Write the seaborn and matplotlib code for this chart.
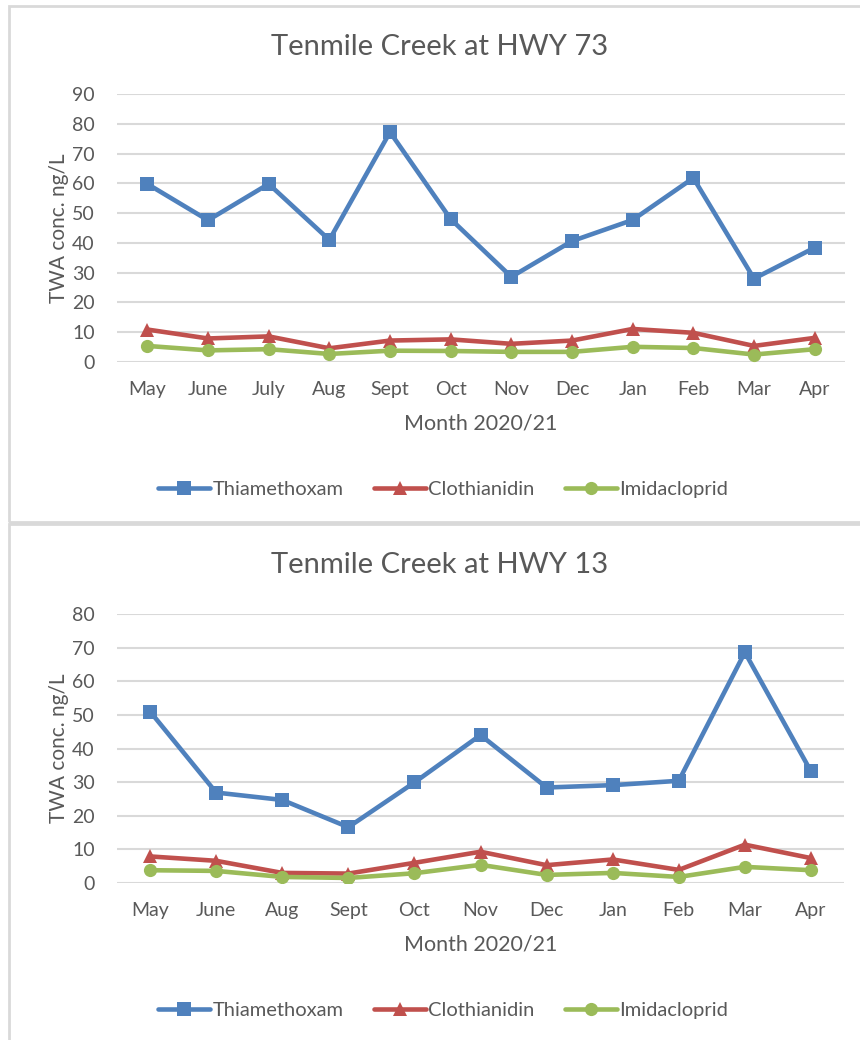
import numpy as np
import pandas as pd
import matplotlib
matplotlib.use("Agg")
import matplotlib.pyplot as plt
import seaborn as sns
from matplotlib.patches import Rectangle

# --- data ---
compounds = ["Thiamethoxam", "Clothianidin", "Imidacloprid"]

months_73 = ["May", "June", "July", "Aug", "Sept", "Oct", "Nov", "Dec", "Jan", "Feb", "Mar", "Apr"]
thiamethoxam_73 = [59.8, 47.6, 59.8, 41.0, 77.2, 48.0, 28.6, 40.6, 47.7, 61.8, 28.0, 38.4]
clothianidin_73 = [10.9, 7.9, 8.6, 4.6, 7.2, 7.6, 6.1, 7.2, 11.1, 9.8, 5.4, 8.1]
imidacloprid_73 = [5.4, 3.9, 4.3, 2.7, 3.8, 3.7, 3.4, 3.4, 5.1, 4.7, 2.5, 4.3]

months_13 = ["May", "June", "Aug", "Sept", "Oct", "Nov", "Dec", "Jan", "Feb", "Mar", "Apr"]
thiamethoxam_13 = [51.0, 26.9, 24.7, 16.6, 29.9, 44.0, 28.4, 29.1, 30.4, 68.6, 33.2]
clothianidin_13 = [7.9, 6.6, 3.0, 2.8, 6.0, 9.3, 5.3, 7.0, 3.9, 11.4, 7.4]
imidacloprid_13 = [3.8, 3.6, 1.8, 1.5, 2.9, 5.4, 2.4, 3.0, 1.8, 4.8, 3.8]

colors = {"Thiamethoxam": "#4F81BD", "Clothianidin": "#C0504D", "Imidacloprid": "#9BBB59"}
markers = {"Thiamethoxam": "s", "Clothianidin": "^", "Imidacloprid": "o"}

TEXT = "#595959"
GRID = "#D9D9D9"

sns.set_theme(style="white")
plt.rcParams["font.family"] = ["Lato", "DejaVu Sans"]


def long_form(months, series):
    frames = []
    for name, vals in zip(compounds, series):
        frames.append(pd.DataFrame({"Month": months, "conc": vals, "Compound": name}))
    return pd.concat(frames, ignore_index=True)


def draw_panel(fig, rect, months, series, title, ymax, title_y, legend_y):
    ax = fig.add_axes(rect)
    df = long_form(months, series)
    sns.lineplot(data=df, x="Month", y="conc", hue="Compound", style="Compound",
                 palette=colors, markers=markers, dashes=False, sort=False,
                 linewidth=3.3, markersize=9.5, markeredgewidth=0, ax=ax)
    ax.set_xlim(-0.5, len(months) - 0.5)
    ax.set_ylim(0, ymax)
    ax.set_yticks(np.arange(0, ymax + 1, 10))
    ax.yaxis.grid(True, color=GRID, linewidth=1.5)
    ax.set_axisbelow(True)
    sns.despine(ax=ax, left=True, bottom=True)
    ax.tick_params(axis="both", length=0, labelsize=14, colors=TEXT)
    ax.tick_params(axis="x", pad=14)
    ax.tick_params(axis="y", pad=16)
    ax.set_xlabel("Month 2020/21", fontsize=15.5, color=TEXT, labelpad=11)
    ax.set_ylabel("TWA conc. ng/L", fontsize=15, color=TEXT, labelpad=2)

    handles, labels = ax.get_legend_handles_labels()
    ax.legend_.remove()
    fig.legend(handles, labels, loc="center", bbox_to_anchor=(0.515, legend_y),
               ncol=3, frameon=False, fontsize=14.5, handlelength=2.6,
               handletextpad=0.1, columnspacing=1.5, labelcolor=TEXT)
    fig.text(0.511, title_y, title, ha="center", va="center", fontsize=21, color=TEXT)
    return ax


fig = plt.figure(figsize=(8.6, 10.4), dpi=100)

# chart-area borders
fig.patches.append(Rectangle((9 / 860, 1 - 522 / 1040), 1.0, 516 / 1040,
                             transform=fig.transFigure, fill=False,
                             edgecolor=GRID, linewidth=2))
fig.patches.append(Rectangle((9 / 860, -0.05), 1.0, 1 - 524 / 1040 + 0.05,
                             transform=fig.transFigure, fill=False,
                             edgecolor=GRID, linewidth=2))

draw_panel(fig, [117 / 860, 1 - 362 / 1040, 728 / 860, 268 / 1040],
           months_73, [thiamethoxam_73, clothianidin_73, imidacloprid_73],
           "Tenmile Creek at HWY 73", 90, 1 - 47 / 1040, 1 - 489 / 1040)

draw_panel(fig, [117 / 860, 1 - 883 / 1040, 727 / 860, 269 / 1040],
           months_13, [thiamethoxam_13, clothianidin_13, imidacloprid_13],
           "Tenmile Creek at HWY 13", 80, 1 - 565 / 1040, 1 - 1010 / 1040)

fig.savefig("out.png", dpi=100)
